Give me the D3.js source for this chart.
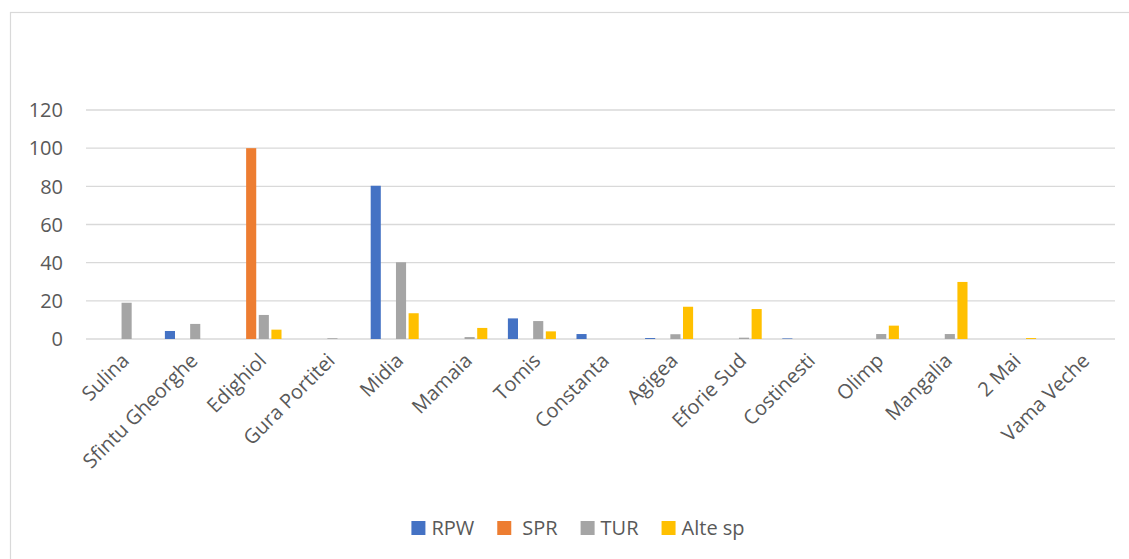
<!DOCTYPE html>
<html>
<head>
<meta charset="utf-8">
<script src="https://cdn.jsdelivr.net/npm/d3@7"></script>
<style>
  body { margin: 0; background: #fff; }
  svg text { font-family: "Open Sans", sans-serif; fill: #595959; }
</style>
</head>
<body>
<div class="chart"></div>
<script>
const categories = ["Sulina", "Sfintu Gheorghe", "Edighiol", "Gura Portitei", "Midia", "Mamaia", "Tomis",
    "Constanta", "Agigea", "Eforie Sud", "Costinesti", "Olimp", "Mangalia", "2 Mai", "Vama Veche"];
const seriesNames = ["RPW", "SPR", "TUR", "Alte sp"];
const rpw = [0, 4.2, 0, 0, 80.3, 0, 10.8, 2.6, 0.5, 0, 0.3, 0, 0, 0, 0];
const spr = [0, 0, 100, 0, 0, 0, 0, 0, 0, 0, 0, 0, 0, 0, 0];
const tur = [19, 7.9, 12.6, 0.4, 40.2, 1, 9.4, 0, 2.5, 0.7, 0, 2.6, 2.6, 0, 0];
const alte = [0, 0, 4.9, 0, 13.5, 5.8, 4, 0, 16.9, 15.7, 0, 7, 29.9, 0.5, 0];
const yTicks = [0, 20, 40, 60, 80, 100, 120];

const width = 1129;
const height = 559;
const colors = ["#4472C4", "#ED7D31", "#A5A5A5", "#FFC000"];
const values = [rpw, spr, tur, alte];

const svg = d3.select(".chart")
    .append("svg")
    .attr("width", width)
    .attr("height", height);

// chart frame (cut off on the right and bottom as in the original)
svg.append("rect")
    .attr("x", 10.5).attr("y", 12.5)
    .attr("width", width + 20).attr("height", height + 20)
    .attr("fill", "none")
    .attr("stroke", "#D9D9D9")
    .attr("stroke-width", 1.2);

const x = d3.scaleBand()
    .domain(categories)
    .range([86, 1115])
    .paddingInner(0.3)
    .paddingOuter(0.15);

const x1 = d3.scaleBand()
    .domain(seriesNames)
    .range([0, x.bandwidth()])
    .paddingInner(0.2);

const y = d3.scaleLinear()
    .domain([0, 120])
    .range([339, 110]);

// gridlines
svg.append("g")
    .selectAll("line")
    .data(yTicks)
    .enter()
    .append("line")
    .attr("x1", 86).attr("x2", 1115)
    .attr("y1", d => y(d)).attr("y2", d => y(d))
    .attr("stroke", "#D9D9D9")
    .attr("stroke-width", 1.4);

// y tick labels
svg.append("g")
    .selectAll("text")
    .data(yTicks)
    .enter()
    .append("text")
    .attr("x", 63)
    .attr("y", d => y(d))
    .attr("dy", "0.36em")
    .attr("text-anchor", "end")
    .style("font-size", "20px")
    .text(d => d);

// bars
const groups = svg.append("g")
    .selectAll("g")
    .data(categories)
    .enter()
    .append("g")
    .attr("transform", d => "translate(" + x(d) + ",0)");

groups.selectAll("rect")
    .data((d, i) => seriesNames.map((s, j) => ({ s: s, v: values[j][i], c: colors[j] })))
    .enter()
    .append("rect")
    .attr("x", d => x1(d.s))
    .attr("width", x1.bandwidth())
    .attr("y", d => y(d.v))
    .attr("height", d => y(0) - y(d.v))
    .attr("fill", d => d.c);

// category labels
svg.append("g")
    .selectAll("text")
    .data(categories)
    .enter()
    .append("text")
    .attr("transform", d => "translate(" + (x(d) + x.bandwidth() / 2 + 5) + ",357) rotate(-45)")
    .attr("text-anchor", "end")
    .attr("dy", "0.35em")
    .style("font-size", "20px")
    .text(d => d);

// legend
const legend = svg.append("g");
let lx = 0;
seriesNames.forEach(function (name, i) {
    const item = legend.append("g").attr("transform", "translate(" + lx + ",0)");
    item.append("rect")
        .attr("x", 0).attr("y", -7)
        .attr("width", 14).attr("height", 14)
        .attr("fill", colors[i]);
    const pad = name === "SPR" ? 25 : 20;
    const t = item.append("text")
        .attr("x", pad)
        .attr("dy", "0.35em")
        .style("font-size", "20px")
        .text(name);
    lx += pad + t.node().getComputedTextLength() + 23;
});
lx -= 23;
legend.attr("transform", "translate(" + (578 - lx / 2) + ",528)");
</script>
</body>
</html>
